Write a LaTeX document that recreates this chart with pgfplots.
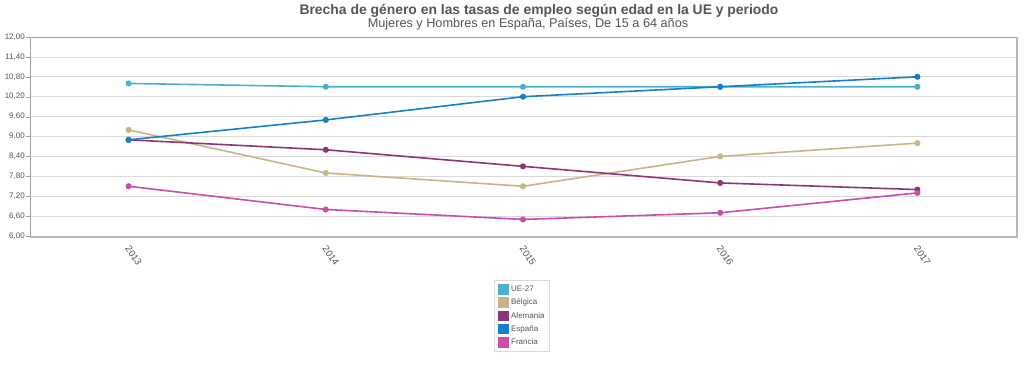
\documentclass[border=0pt]{standalone}
\usepackage{fontspec}
\setmainfont{Liberation Sans}
\usepackage{pgfplots}
\pgfplotsset{compat=1.18}
\definecolor{cUE}{HTML}{4BB0CC}
\definecolor{cBE}{HTML}{C8B583}
\definecolor{cAL}{HTML}{8E3578}
\definecolor{cES}{HTML}{1480C8}
\definecolor{cFR}{HTML}{CC4CAE}
\definecolor{txt}{HTML}{555555}
\definecolor{gridc}{HTML}{D9D9D9}
\definecolor{framec}{HTML}{A0A0A0}
\begin{document}
\begin{tikzpicture}[x=1pt,y=1pt]
\path[use as bounding box] (0,0) rectangle (1024,373);
\node[font=\fontsize{13.9}{15}\selectfont\bfseries, text=txt] at (539,362.5) {Brecha de género en las tasas de empleo según edad en la UE y periodo};
\node[font=\fontsize{12.7}{14}\selectfont, text=txt] at (528,349) {Mujeres y Hombres en España, Países, De 15 a 64 años};
\begin{axis}[
  name=ax,
  at={(30pt,137pt)}, anchor=south west,
  scale only axis, width=986pt, height=199pt,
  xmin=-0.5, xmax=4.5, ymin=6, ymax=12,
  xtick={0,1,2,3,4},
  xticklabels={2013,2014,2015,2016,2017},
  xtick pos=bottom, ytick pos=left,
  x tick label style={xshift=2pt, yshift=-4pt, rotate=-56, anchor=north west, font=\fontsize{9.6}{10}\selectfont, text=txt, inner sep=0.5pt},
  xtick style={draw=none},
  extra x ticks={0.5,1.5,2.5,3.5},
  extra x tick labels={},
  extra x tick style={major tick length=3pt, tick style={draw=framec}, grid=none},
  ytick={6,6.6,7.2,7.8,8.4,9.0,9.6,10.2,10.8,11.4,12},
  y tick label style={font=\fontsize{8}{9}\selectfont, text=txt, inner sep=1pt},
  yticklabel style={/pgf/number format/.cd, fixed, fixed zerofill, precision=2, use comma, assume math mode=true},
  ytick style={draw=framec},
  major tick length=4pt,
  tick align=outside,
  ymajorgrids, grid style={gridc, line width=0.8pt},
  axis line style={framec, line width=0.8pt},
  every axis plot/.append style={line width=1.6pt, mark=*, mark size=2.2pt},
  legend style={at={(0.499,-0.221)}, anchor=north, draw=gridc, line width=0.6pt, font=\fontsize{8}{9.5}\selectfont, text=txt, row sep=2pt, inner xsep=3pt, inner ysep=3.5pt},
  legend cell align=left,
  legend image code/.code={\fill[#1, mark=none] (0pt,-4.5pt) rectangle (10pt,4.5pt);},
]
\addplot[cUE, mark options={fill=cUE}] coordinates {(0,10.6) (1,10.5) (2,10.5) (3,10.5) (4,10.5)};
\addlegendentry{UE-27}
\addplot[cBE, mark options={fill=cBE}] coordinates {(0,9.2) (1,7.9) (2,7.5) (3,8.4) (4,8.8)};
\addlegendentry{Bélgica}
\addplot[cAL, mark options={fill=cAL}] coordinates {(0,8.9) (1,8.6) (2,8.1) (3,7.6) (4,7.4)};
\addlegendentry{Alemania}
\addplot[cES, mark options={fill=cES}] coordinates {(0,8.9) (1,9.5) (2,10.2) (3,10.5) (4,10.8)};
\addlegendentry{España}
\addplot[cFR, mark options={fill=cFR}] coordinates {(0,7.5) (1,6.8) (2,6.5) (3,6.7) (4,7.3)};
\addlegendentry{Francia}
\end{axis}
\draw[framec!75, line width=1.6pt] ([yshift=-1.2pt]ax.south west) -- ([yshift=-1.2pt,xshift=1.2pt]ax.south east) -- ([xshift=1.2pt]ax.north east);
\end{tikzpicture}
\end{document}
